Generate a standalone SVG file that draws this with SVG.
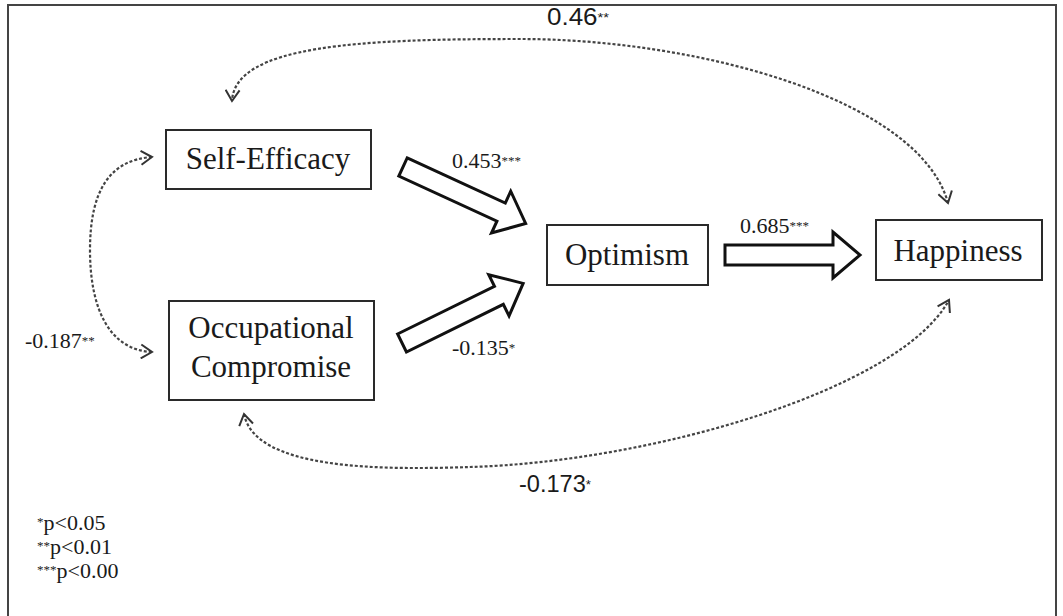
<svg xmlns="http://www.w3.org/2000/svg" width="1063" height="616" viewBox="0 0 1063 616">
<style>
.node rect{fill:#fff;stroke:#2a2a2a;stroke-width:2}
.node text{font-family:"Liberation Serif","Times New Roman",serif;font-size:31px;fill:#1a1a1a;text-anchor:middle}
.lbl{font-family:"Liberation Serif","Times New Roman",serif;font-size:22px;fill:#1a1a1a}
.nar{font-family:"Liberation Sans",Arial,sans-serif;font-size:23px;fill:#1a1a1a}
.ast{font-size:13px}
.leg{font-family:"Liberation Serif","Times New Roman",serif;font-size:22px;fill:#1a1a1a}
.dot{fill:none;stroke:#444;stroke-width:2.2;stroke-dasharray:3 2}
.big{fill:#fff;stroke:#111;stroke-width:3;stroke-linejoin:miter}
</style>
<defs>
<marker id="v" viewBox="-12 -8 14 16" markerWidth="14" markerHeight="16" refX="0" refY="0" orient="auto-start-reverse" markerUnits="userSpaceOnUse">
<path d="M-11,-7 L0,0 L-11,7" fill="none" stroke="#333" stroke-width="2"/>
</marker>
<path id="arr" d="M0,-10 L108,-10 L108,-23 L135,0 L108,23 L108,10 L0,10 Z"/>
</defs>
<rect x="8" y="5" width="1048" height="630" fill="#fff" stroke="#444" stroke-width="2"/>

<g id="connectors">
<path class="dot" d="M948,203 C920,100 700,39 520,39 C360,39 235,45 232,101" marker-start="url(#v)" marker-end="url(#v)"/>
<path class="dot" d="M152,157 C110,160 90,190 90,250 C90,310 110,350 152,352" marker-start="url(#v)" marker-end="url(#v)"/>
<path class="dot" d="M244,414 C255,470 380,470 470,467 C650,462 900,390 949,300" marker-start="url(#v)" marker-end="url(#v)"/>
<use href="#arr" class="big" transform="translate(403,167) rotate(24.7)"/>
<use href="#arr" class="big" transform="translate(402,343) rotate(-26.2)"/>
<use href="#arr" class="big" transform="translate(725,255)"/>
<text class="nar" x="547" y="25" textLength="62" lengthAdjust="spacingAndGlyphs">0.46<tspan class="ast" dy="-3">**</tspan></text>
<text class="lbl" x="452" y="168">0.453<tspan class="ast" dy="-3">***</tspan></text>
<text class="lbl" x="452" y="355">-0.135<tspan class="ast" dy="-3">*</tspan></text>
<text class="lbl" x="740" y="233">0.685<tspan class="ast" dy="-3">***</tspan></text>
<text class="lbl" x="25" y="348">-0.187<tspan class="ast" dy="-3">**</tspan></text>
<text class="nar" x="519" y="492" textLength="72" lengthAdjust="spacingAndGlyphs">-0.173<tspan class="ast" dy="-3">*</tspan></text>
</g>

<g id="self-efficacy" class="node">
<rect x="166" y="130" width="205" height="59"/>
<text x="268" y="169">Self-Efficacy</text>
</g>
<g id="occupational-compromise" class="node">
<rect x="169" y="301" width="205" height="99"/>
<text x="271" y="338">Occupational</text>
<text x="271" y="377">Compromise</text>
</g>
<g id="optimism" class="node">
<rect x="547" y="225" width="161" height="60"/>
<text x="627" y="265">Optimism</text>
</g>
<g id="happiness" class="node">
<rect x="876" y="220" width="166" height="60"/>
<text x="958" y="261">Happiness</text>
</g>

<g id="legend">
<text class="leg" x="37" y="530"><tspan class="ast" dy="-4">*</tspan><tspan dy="4">p&lt;0.05</tspan></text>
<text class="leg" x="37" y="554"><tspan class="ast" dy="-4">**</tspan><tspan dy="4">p&lt;0.01</tspan></text>
<text class="leg" x="37" y="578"><tspan class="ast" dy="-4">***</tspan><tspan dy="4">p&lt;0.00</tspan></text>
</g>
</svg>
